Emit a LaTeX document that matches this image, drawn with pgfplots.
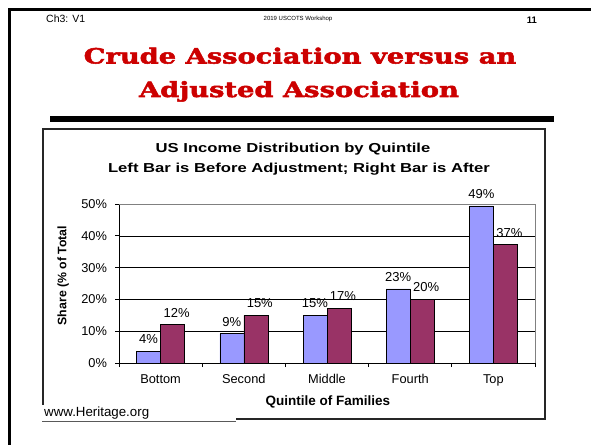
\documentclass[border=0pt]{standalone}
\usepackage{fontspec}
\setmainfont{Liberation Sans}
\newfontfamily\slab{DejaVu Serif}[FakeBold=2.5, FakeStretch=1.3]
\newfontfamily\widesans{Liberation Sans}[FakeStretch=1.28]
\usepackage{pgfplots}
\pgfplotsset{compat=1.18}
\usepackage{pgfplotstable}
\definecolor{barblue}{RGB}{153,153,255}
\definecolor{barred}{RGB}{153,51,102}
\definecolor{titlered}{RGB}{204,0,0}
\pgfplotstableread{
x y lab
0 3.7 4
1 9.2 9
2 15.0 15
3 23.3 23
4 49.4 49
}\before
\pgfplotstableread{
x y lab
0 12.1 12
1 15.0 15
2 17.2 17
3 20.0 20
4 37.2 37
}\after
\begin{document}
\begin{tikzpicture}
\path[use as bounding box] (0,0) rectangle (591pt,444pt);
% slide frame
\draw[line width=3pt] (9pt,-10pt) -- (9pt,434pt) -- (610pt,434pt);
% header
\node[anchor=west, inner sep=0pt, font=\fontsize{10.5}{12}\selectfont] at (46pt,425pt) {Ch3: V1};
\node[inner sep=0pt, font=\fontsize{6}{7}\selectfont] at (298pt,425pt) {2019 USCOTS Workshop};
\node[inner sep=0pt, font=\fontsize{9.5}{11}\selectfont\bfseries] at (532pt,424pt) {11};
% title
\node[anchor=base, inner sep=0pt, text=titlered, font=\slab\bfseries\fontsize{21}{25}\selectfont] at (300pt,380.5pt) {Crude Association versus an};
\node[anchor=base, inner sep=0pt, text=titlered, font=\slab\bfseries\fontsize{21}{25}\selectfont] at (299pt,347pt) {Adjusted Association};
\draw[line width=5.5pt] (50pt,325pt) -- (554pt,325pt);
% chart box
\draw[line width=1.2pt, black!85] (43pt,25pt) rectangle (545pt,315pt);
\node[anchor=base, inner sep=0pt, font=\widesans\bfseries\fontsize{13}{15}\selectfont] at (293pt,291pt) {US Income Distribution by Quintile};
\node[anchor=base, inner sep=0pt, font=\widesans\bfseries\fontsize{13}{15}\selectfont] at (299pt,271pt) {Left Bar is Before Adjustment; Right Bar is After};
\begin{axis}[
  at={(119pt,81pt)}, anchor=south west,
  scale only axis, width=416pt, height=159pt,
  xmin=-0.5, xmax=4.5, ymin=0, ymax=50,
  ybar=0pt, bar width=24pt,
  clip=false,
  axis x line*=bottom, axis y line*=left,
  axis line style={black, line width=0.7pt},
  xtick={-0.5,0.5,...,4.5},
  xticklabels={Bottom,Second,Middle,Fourth,Top},
  x tick label as interval,
  ytick={0,10,...,50},
  yticklabel={\pgfmathprintnumber{\tick}\%},
  /pgf/number format/assume math mode=true,
  tick align=outside, major tick length=4pt,
  tick style={black, line width=0.7pt},
  ymajorgrids, grid style={black, line width=0.6pt},
  ticklabel style={font=\fontsize{12.8}{14}\selectfont},
  xticklabel style={yshift=-4pt},
  yticklabel style={xshift=-4.5pt},
  xlabel={Quintile of Families},
  ylabel={Share (\% of Total},
  xlabel style={font=\bfseries\fontsize{13.5}{15}\selectfont, at={(axis description cs:0.502,-0.245)}, anchor=center},
  ylabel style={font=\bfseries\fontsize{12.3}{14}\selectfont, at={(axis description cs:-0.134,0.55)}, anchor=center, rotate=0},
  point meta=explicit symbolic,
  nodes near coords={\pgfplotspointmeta\%},
  every node near coord/.append style={font=\fontsize{13}{15}\selectfont, inner sep=0pt, anchor=south, yshift=7pt, black},
]
\addplot[fill=barblue, draw=black, line width=0.6pt] table[x=x, y=y, meta=lab] {\before};
\addplot[fill=barred, draw=black, line width=0.6pt, every node near coord/.append style={xshift=4pt}] table[x=x, y=y, meta=lab] {\after};
\draw[gray, line width=0.7pt] (rel axis cs:0,1) -- (rel axis cs:1,1) -- (rel axis cs:1,0);
\end{axis}
% source note
\fill[white] (40pt,23.5pt) rectangle (236pt,39pt);
\draw[gray!70!black, line width=0.7pt] (42pt,22.5pt) -- (236pt,22.5pt);
\node[anchor=west, inner sep=0pt, font=\fontsize{13.3}{15}\selectfont] at (44pt,31pt) {www.Heritage.org};
\end{tikzpicture}
\end{document}
